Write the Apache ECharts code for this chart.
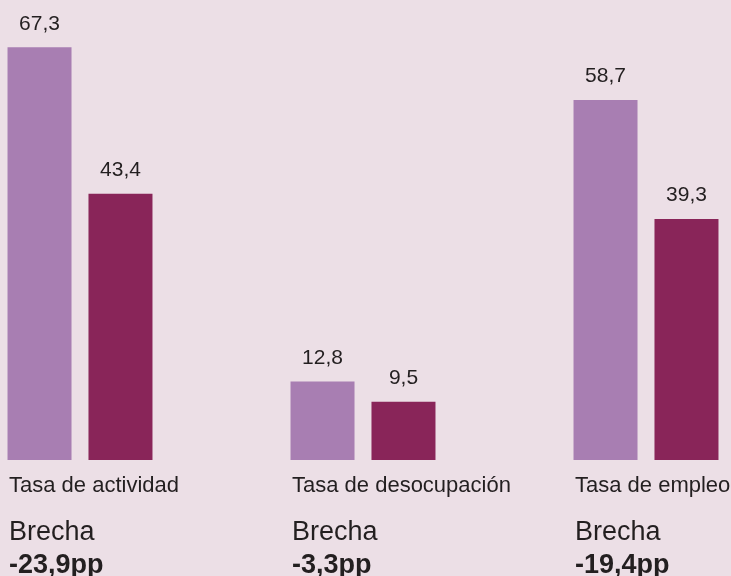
<!DOCTYPE html>
<html>
<head>
<meta charset="utf-8">
<script src="https://cdn.jsdelivr.net/npm/echarts@6/dist/echarts.min.js"></script>
<style>
  html, body { margin: 0; padding: 0; background: #ecdfe6; }
  #grafico { width: 731px; height: 576px; }
</style>
</head>
<body>
<div id="grafico"></div>
<script>
  // datos
  var categorias = ['Tasa de actividad', 'Tasa de desocupación', 'Tasa de empleo'];
  var varones = [67.3, 12.8, 58.7];
  var mujeres = [43.4, 9.5, 39.3];
  var brechas = ['-23,9pp', '-3,3pp', '-19,4pp'];

  var fuente = '"Liberation Sans", Arial, sans-serif';
  var texto = '#231f20';

  function coma(v) {
    return v.toFixed(1).replace('.', ',');
  }

  var chart = echarts.init(document.getElementById('grafico'));

  var etiqueta = {
    show: true,
    position: 'top',
    distance: 13,
    fontFamily: fuente,
    fontSize: 21,
    color: texto,
    formatter: function (p) { return coma(p.value); }
  };

  chart.setOption({
    backgroundColor: '#ecdfe6',
    animation: false,
    grid: {
      left: -61.5,
      right: -56.5,
      top: 0,
      bottom: 116,
      containLabel: false,
      outerBoundsMode: 'none'
    },
    xAxis: {
      type: 'category',
      data: categorias,
      axisLine: { show: false },
      axisTick: { show: false },
      axisLabel: {
        interval: 0,
        margin: 0,
        width: 142,
        align: 'center',
        verticalAlign: 'top',
        fontFamily: fuente,
        color: texto,
        formatter: function (v, i) {
          return '{a|' + v + '}\n{b|Brecha}\n{c|' + brechas[i] + '}';
        },
        rich: {
          a: { fontFamily: fuente, fontSize: 22, lineHeight: 51, color: texto, align: 'left' },
          b: { fontFamily: fuente, fontSize: 27, lineHeight: 44, color: texto, align: 'left' },
          c: { fontFamily: fuente, fontSize: 27, fontWeight: 'bold', lineHeight: 22, color: texto, align: 'left' }
        }
      }
    },
    yAxis: {
      type: 'value',
      min: 0,
      max: 75,
      show: false,
      splitLine: { show: false }
    },
    series: [
      {
        name: 'Varones',
        type: 'bar',
        data: varones,
        barWidth: 64,
        barGap: '26.5%',
        itemStyle: { color: '#a87eb2' },
        label: etiqueta
      },
      {
        name: 'Mujeres',
        type: 'bar',
        data: mujeres,
        barWidth: 64,
        itemStyle: { color: '#892559' },
        label: etiqueta
      }
    ]
  });
</script>
</body>
</html>
